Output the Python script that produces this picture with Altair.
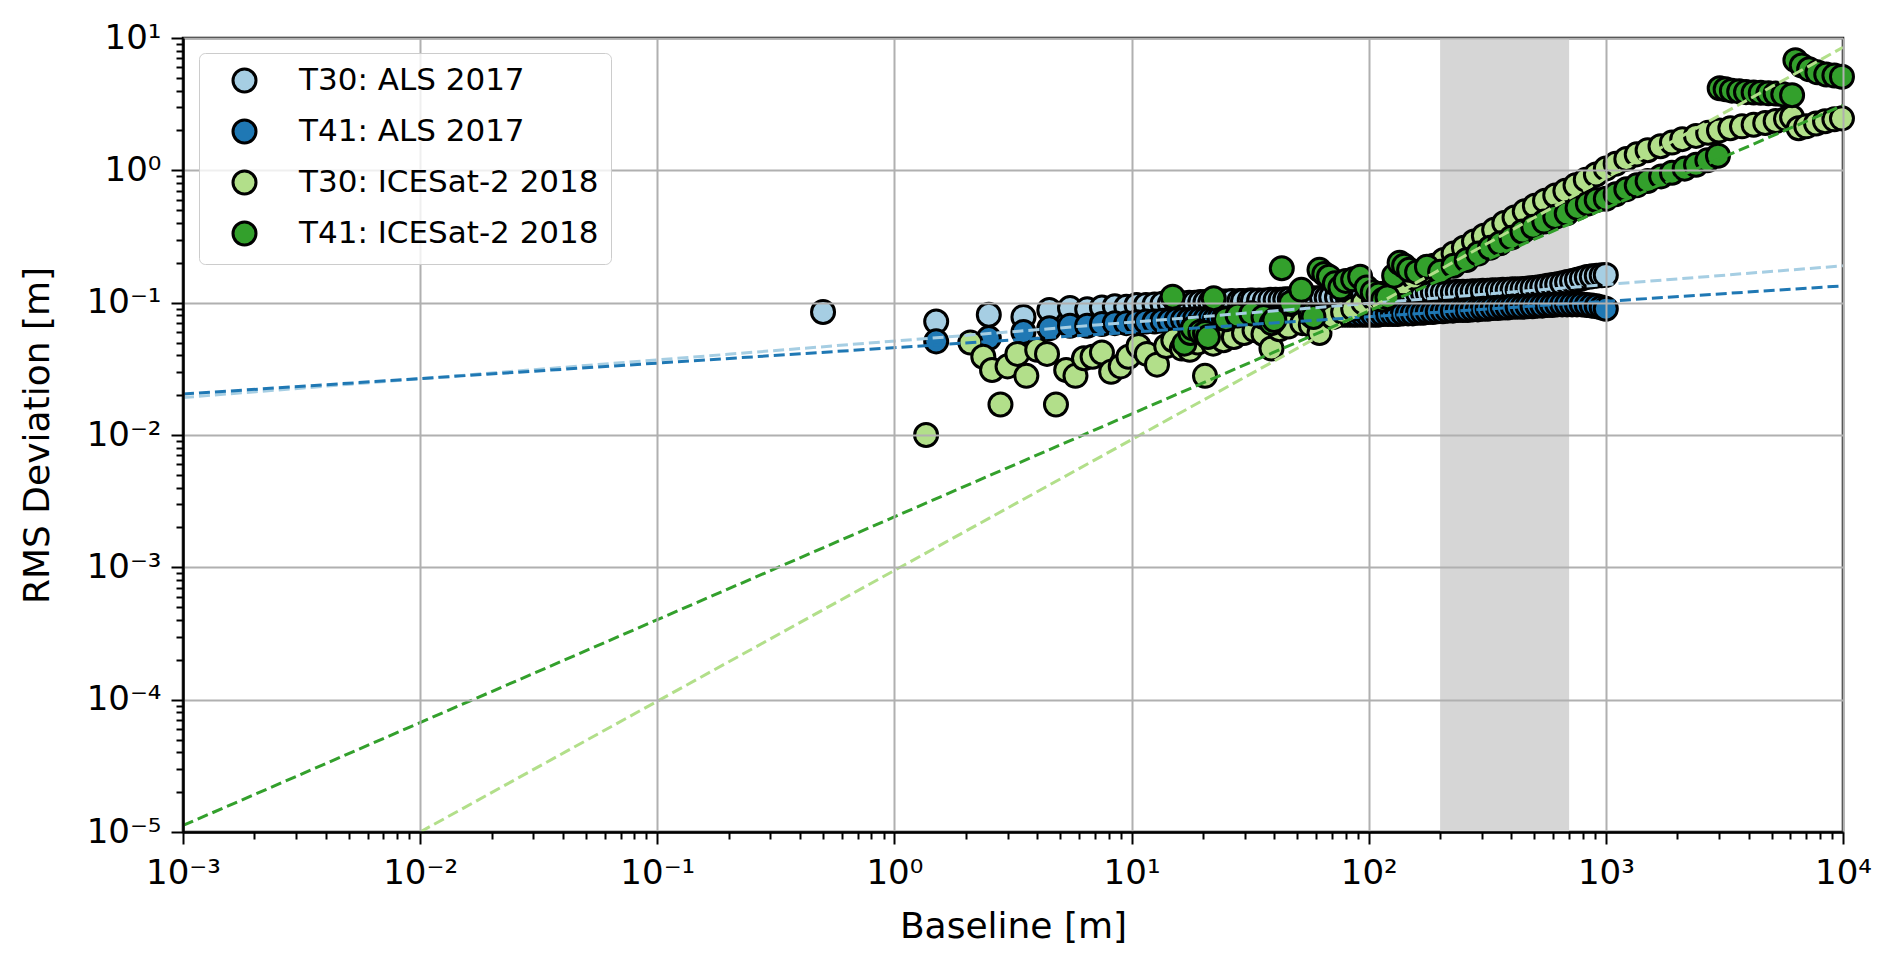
import altair as alt
import pandas as pd

series_names = ["T30: ALS 2017", "T41: ALS 2017", "T30: ICESat-2 2018", "T41: ICESat-2 2018"]
series_colors = ["#a6cee3", "#1f78b4", "#b2df8a", "#33a02c"]

# ALS baselines: every metre below 10 m, then sampled along the dense tube
als_x_near = [0.5, 1.5, 2.5, 3.5, 4.5, 5.5, 6.5, 7.5, 8.5, 9.5]
als_x_far = [10.5, 11.5, 12.5, 13.5, 14.5, 15.5, 16.5, 17.5, 18.5, 19.5,
             20.5, 21.5, 22.5, 23.5, 24.5, 25.5, 26.5, 28.5, 29.5, 31.5,
             32.5, 34.5, 36.5, 38.5, 40.5, 42.5, 44.5, 46.5, 49.5, 51.5,
             54.5, 57.5, 60.5, 63.5, 66.5, 69.5, 73.5, 77.5, 81.5, 85.5,
             89.5, 94.5, 99.5, 104.5, 109.5, 114.5, 120.5, 126.5, 132.5, 139.5,
             146.5, 153.5, 161.5, 169.5, 177.5, 186.5, 195.5, 205.5, 215.5, 226.5,
             237.5, 249.5, 261.5, 274.5, 288.5, 302.5, 317.5, 333.5, 350.5, 367.5,
             385.5, 404.5, 424.5, 445.5, 467.5, 490.5, 514.5, 539.5, 566.5, 594.5,
             623.5, 654.5, 686.5, 720.5, 755.5, 792.5, 831.5, 872.5, 915.5, 960.5,
             999.5]

# T30: ALS 2017
t30_als_x = als_x_near + als_x_far
t30_als_y = [0.085, 0.072, 0.081, 0.078, 0.088, 0.091, 0.089, 0.092, 0.094, 0.093,
             0.096, 0.096, 0.097, 0.098, 0.098, 0.099, 0.099, 0.100, 0.100, 0.101,
             0.101, 0.101, 0.101, 0.102, 0.102, 0.102, 0.103, 0.103, 0.103, 0.104,
             0.104, 0.104, 0.104, 0.105, 0.105, 0.105, 0.106, 0.106, 0.107, 0.107,
             0.107, 0.108, 0.108, 0.109, 0.109, 0.110, 0.110, 0.111, 0.111, 0.112,
             0.112, 0.113, 0.113, 0.114, 0.114, 0.115, 0.115, 0.116, 0.116, 0.117,
             0.117, 0.118, 0.118, 0.118, 0.119, 0.119, 0.120, 0.120, 0.120, 0.120,
             0.121, 0.121, 0.121, 0.122, 0.122, 0.123, 0.123, 0.124, 0.124, 0.125,
             0.125, 0.126, 0.126, 0.127, 0.128, 0.129, 0.130, 0.132, 0.134, 0.136,
             0.138, 0.140, 0.143, 0.146, 0.149, 0.152, 0.156, 0.158, 0.160, 0.161,
             0.162]

# T41: ALS 2017
t41_als_x = als_x_near[1:] + als_x_far
t41_als_y = [0.051, 0.054, 0.060, 0.064, 0.067, 0.067, 0.069, 0.070, 0.070,
             0.071, 0.072, 0.072, 0.073, 0.073, 0.074, 0.074, 0.074, 0.075, 0.075,
             0.075, 0.075, 0.075, 0.076, 0.076, 0.076, 0.076, 0.077, 0.077, 0.077,
             0.077, 0.078, 0.078, 0.078, 0.078, 0.079, 0.079, 0.079, 0.079, 0.079,
             0.080, 0.080, 0.080, 0.080, 0.080, 0.080, 0.081, 0.081, 0.081, 0.081,
             0.081, 0.081, 0.081, 0.081, 0.081, 0.082, 0.082, 0.082, 0.082, 0.083,
             0.083, 0.083, 0.084, 0.084, 0.085, 0.085, 0.086, 0.086, 0.087, 0.087,
             0.088, 0.088, 0.088, 0.089, 0.089, 0.090, 0.090, 0.091, 0.091, 0.092,
             0.092, 0.093, 0.093, 0.093, 0.094, 0.094, 0.095, 0.095, 0.096, 0.096,
             0.097, 0.097, 0.097, 0.097, 0.097, 0.097, 0.096, 0.095, 0.094, 0.092,
             0.090]

# T30: ICESat-2 2018
t30_is2_x = [1.36, 2.09, 2.37, 2.58, 2.8, 3.0, 3.3, 3.6, 4.0, 4.4, 4.8, 5.3, 5.8, 6.3, 6.85, 7.5,
             8.2, 9.0, 9.7, 10.7, 11.6, 12.8, 14.0, 15.0, 16.3, 17.6, 19.0, 20.4, 22.1, 24.4, 27.0,
             29.8, 33.0, 36.0, 38.9, 42.0, 45.8, 52.5, 57.0, 62.0, 70.6, 78.0, 86.0, 95.0, 105,
             115, 127, 140, 155, 170, 188, 207, 228, 252, 278, 306, 338, 373, 412, 455, 502, 554,
             612, 675, 745, 823, 908, 1000, 1100, 1220, 1350, 1500, 1700, 1900, 2100, 2400, 2700,
             3000, 3350, 3750, 4200, 4700, 5200, 5750, 6100, 6500, 7000, 7700, 8400, 9200, 9900]
t30_is2_y = [0.010, 0.050, 0.039, 0.031, 0.017, 0.033, 0.041, 0.028, 0.044, 0.041, 0.017, 0.031,
             0.028, 0.038, 0.039, 0.042, 0.030, 0.033, 0.039, 0.047, 0.041, 0.034, 0.047, 0.052,
             0.045, 0.044, 0.050, 0.028, 0.049, 0.052, 0.055, 0.059, 0.062, 0.058, 0.045, 0.063,
             0.066, 0.070, 0.068, 0.059, 0.078, 0.085, 0.090, 0.100, 0.108, 0.117, 0.127, 0.140,
             0.155, 0.172, 0.190, 0.210, 0.235, 0.260, 0.290, 0.320, 0.355, 0.400, 0.440, 0.490,
             0.540, 0.590, 0.645, 0.700, 0.770, 0.850, 0.930, 1.03, 1.12, 1.22, 1.32, 1.42, 1.52,
             1.62, 1.72, 1.82, 1.92, 2.00, 2.08, 2.15, 2.21, 2.28, 2.36, 2.45, 2.52, 2.08, 2.15,
             2.26, 2.35, 2.43, 2.47]

# T41: ICESat-2 2018
t41_is2_x = [14.9, 16.7, 17.7, 18.1, 19.5, 20.4, 21.0, 22.2, 25.0, 28.0, 32.0, 36.0, 39.0, 40.0,
             43.0, 47.0, 52.0, 57.0, 58.5, 62.0, 65.0, 68.0, 72.0, 76.0, 80.0, 86.0, 92.0, 98.0,
             104, 110, 115, 120, 128, 135, 141, 148, 160, 176, 200, 228, 259, 290, 325, 358, 400,
             445, 494, 550, 612, 684, 760, 840, 915, 1000, 1100, 1220, 1350, 1500, 1710, 1900,
             2150, 2400, 2680, 2970, 3020, 3200, 3400, 3650, 3900, 4200, 4500, 4850, 5200, 5600,
             6100, 6300, 6700, 7200, 7800, 8500, 9200, 9900]
t41_is2_y = [0.111, 0.049, 0.059, 0.064, 0.060, 0.059, 0.055, 0.108, 0.075, 0.080, 0.083, 0.078,
             0.070, 0.074, 0.182, 0.100, 0.125, 0.081, 0.078, 0.177, 0.165, 0.157, 0.140, 0.130,
             0.146, 0.150, 0.157, 0.130, 0.120, 0.115, 0.105, 0.110, 0.160, 0.200, 0.190, 0.177,
             0.170, 0.187, 0.171, 0.190, 0.210, 0.235, 0.260, 0.281, 0.310, 0.345, 0.375, 0.410,
             0.445, 0.473, 0.520, 0.560, 0.597, 0.61, 0.66, 0.72, 0.77, 0.83, 0.90, 0.96, 1.03,
             1.10, 1.19, 1.29, 4.17, 4.10, 4.00, 3.95, 3.90, 3.87, 3.85, 3.82, 3.80, 3.75, 3.70,
             6.8, 6.2, 5.8, 5.5, 5.3, 5.2, 5.1]

# dashed power-law fits, one straight segment each in log-log space
fit_x_start = [1e-3, 1e-3, 1e-2, 1e-3]
fit_y_start = [0.0192, 0.0204, 1e-5, 1.12e-5]
fit_x_end = [1e4, 1e4, 1e4, 1e4]
fit_y_end = [0.19, 0.134, 8.5, 3.1]

# shaded baseline range
band_x = [200, 700]

x_exponents = [-3, -2, -1, 0, 1, 2, 3, 4]
y_exponents = [-5, -4, -3, -2, -1, 0, 1]

points = pd.concat(
    [
        pd.DataFrame({"baseline": xs, "rms": ys, "series": name})
        for name, xs, ys in zip(
            series_names,
            [t30_als_x, t41_als_x, t30_is2_x, t41_is2_x],
            [t30_als_y, t41_als_y, t30_is2_y, t41_is2_y],
        )
    ],
    ignore_index=True,
)
points["draw"] = range(len(points))

fits = pd.DataFrame(
    {
        "baseline": fit_x_start + fit_x_end,
        "rms": fit_y_start + fit_y_end,
        "series": series_names + series_names,
    }
)

band = pd.DataFrame(
    {
        "baseline": [band_x[0]],
        "baseline_end": [band_x[1]],
        "rms": [10.0 ** y_exponents[0]],
        "rms_end": [10.0 ** y_exponents[-1]],
    }
)


def log_ticks(exponents):
    vals = []
    for e in exponents[:-1]:
        vals += [m * 10.0**e for m in range(1, 10)]
    return vals + [10.0 ** exponents[-1]]


is_major = "abs(log(datum.value) / LN10 - round(log(datum.value) / LN10)) < 1e-6"
expo = "round(log(datum.value) / LN10)"
sup_digits = "['\u2070','\u00b9','\u00b2','\u00b3','\u2074','\u2075','\u2076','\u2077','\u2078','\u2079']"
label_expr = (
    f"{is_major} ? '10' + ({expo} < 0 ? '\u207b' : '') + {sup_digits}[abs({expo})] : ''"
)

axis_style = dict(
    labelExpr=label_expr,
    labelFont="DejaVu Sans",
    labelFontSize=34,
    labelColor="black",
    labelOverlap=False,
    labelFlush=False,
    tickColor="black",
    tickWidth=2,
    tickSize={"condition": {"test": is_major, "value": 12}, "value": 7},
    grid=True,
    gridColor="#b0b0b0",
    gridWidth=2,
    gridOpacity={"condition": {"test": is_major, "value": 1}, "value": 0},
    domainColor="black",
    domainWidth=2.5,
    titleFont="DejaVu Sans",
    titleFontSize=36,
    titleFontWeight="normal",
    titleColor="black",
    zindex=1,
)

x_enc = alt.X(
    "baseline:Q",
    scale=alt.Scale(type="log", domain=[1e-3, 1e4], nice=False),
    axis=alt.Axis(
        title="Baseline [m]",
        values=log_ticks(x_exponents),
        labelPadding=12,
        titleX=830,
        titleY=105,
        titleAlign="center",
        titleBaseline="alphabetic",
        **axis_style,
    ),
)
y_enc = alt.Y(
    "rms:Q",
    scale=alt.Scale(type="log", domain=[1e-5, 10], nice=False),
    axis=alt.Axis(
        title="RMS Deviation [m]",
        values=log_ticks(y_exponents),
        labelPadding=10,
        titleX=-135,
        titleY=397,
        titleAngle=270,
        titleAlign="center",
        titleBaseline="alphabetic",
        **axis_style,
    ),
)

legend_style = alt.Legend(
    title=None,
    orient="none",
    legendX=16,
    legendY=15,
    labelFont="DejaVu Sans",
    labelFontSize=31,
    labelColor="black",
    labelLimit=500,
    symbolType="circle",
    symbolSize=530,
    symbolStrokeWidth=3,
    symbolOpacity=1,
    fillColor="rgba(255,255,255,0.8)",
    strokeColor="#cccccc",
    cornerRadius=6,
    padding=12,
    rowPadding=14,
    symbolOffset=18,
    labelOffset=39,
    zindex=2,
)

shade = (
    alt.Chart(band)
    .mark_rect(color="#d6d6d6")
    .encode(x=x_enc, x2="baseline_end", y=y_enc, y2="rms_end")
)

dots = (
    alt.Chart(points)
    .mark_circle(size=530, opacity=1, strokeWidth=3)
    .encode(
        x=x_enc,
        y=y_enc,
        fill=alt.Fill(
            "series:N",
            scale=alt.Scale(domain=series_names, range=series_colors),
            legend=legend_style,
        ),
        stroke=alt.Stroke(
            "series:N",
            scale=alt.Scale(domain=series_names, range=["black"] * len(series_names)),
            legend=legend_style,
        ),
        order=alt.Order("draw:Q"),
    )
)

fit_lines = (
    alt.Chart(fits)
    .mark_line(strokeDash=[11, 5], strokeWidth=3, clip=True)
    .encode(
        x=x_enc,
        y=y_enc,
        color=alt.Color(
            "series:N",
            scale=alt.Scale(domain=series_names, range=series_colors),
            legend=None,
        ),
    )
)

chart = (
    alt.layer(shade, dots, fit_lines)
    .properties(
        width=1660,
        height=794,
        padding={"left": 175, "top": 30, "right": 41, "bottom": 121},
        autosize=alt.AutoSizeParams(type="none"),
    )
    .configure_view(stroke="black", strokeWidth=2.5)
)

chart.save("out.html", embed_options={"renderer": "svg", "actions": False})
